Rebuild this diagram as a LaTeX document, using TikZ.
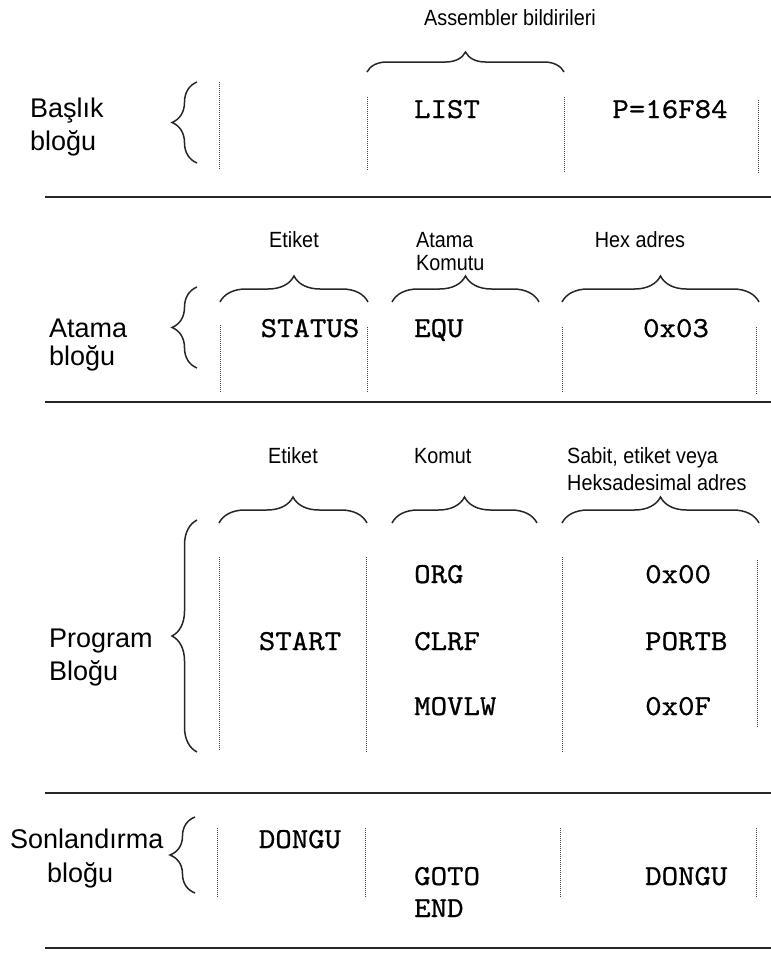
\documentclass[tikz,border=0pt]{standalone}
\usepackage{fontspec}
\usepackage{graphicx}
\setmainfont{Liberation Sans}
\newfontfamily\codefont[Extension=.otf,FakeBold=0.7]{lmmono10-regular}
\newcommand{\narrowtext}[1]{\scalebox{0.9}[1]{#1}}
\newcommand{\codetext}[1]{\scalebox{1.08}[1]{#1}}
\usetikzlibrary{decorations.pathreplacing}

\begin{document}
\begin{tikzpicture}[x=1pt,y=-1pt,
  rule/.style={line width=2.8pt, black!85},
  sep/.style={densely dotted, line width=1pt, black!75},
  bracebase/.style={decorate, line width=1.5pt, black!85},
  hbrace/.style={bracebase, decoration={brace, amplitude=#1}},
  hbrace/.default=26pt,
  vbrace/.style={bracebase, decoration={brace, amplitude=25pt}},
  blocklabel/.style={font=\fontsize{27}{30}\selectfont, anchor=base west, inner sep=0pt},
  fieldlabel/.style={font=\fontsize{22}{25}\selectfont, inner sep=0pt},
  code/.style={font=\codefont\fontsize{29}{32}\selectfont, inner sep=0pt},
]
\useasboundingbox (0,0) rectangle (771,954);

% ---------- header block ----------
\node[fieldlabel, anchor=base] (asm) at (510,25) {\narrowtext{Assembler bildirileri}};
\draw[hbrace=20pt] (367,72) -- (564,72);
\draw[vbrace] (197,163) -- (197,82);
\node[blocklabel] (h1) at (30,117) {Başlık};
\node[blocklabel] (h2) at (30,150) {bloğu};
\node[code, anchor=base] (list) at (447,118) {\codetext{LIST}};
\node[code, anchor=base] (proc) at (670,118) {\codetext{P=16F84}};
\draw[sep] (219,82) -- (219,170);
\draw[sep] (367,97) -- (367,170);
\draw[sep] (564,97) -- (564,172);
\draw[sep] (758,100) -- (758,173);
\draw[rule] (45,197) -- (771,197);

% ---------- assignment block ----------
\node[fieldlabel, anchor=base] (a1) at (294,247) {\narrowtext{Etiket}};
\node[fieldlabel, anchor=base west] (a2) at (416,247) {\narrowtext{Atama}};
\node[fieldlabel, anchor=base west] (a3) at (416,270) {\narrowtext{Komutu}};
\node[fieldlabel, anchor=base] (a4) at (640,247) {\narrowtext{Hex adres}};
\draw[hbrace] (220,302) -- (368,302);
\draw[hbrace] (392,302) -- (539,302);
\draw[hbrace] (562,302) -- (759,302);
\draw[vbrace] (197,368) -- (197,287);
\node[blocklabel] (b1) at (49,337) {Atama};
\node[blocklabel] (b2) at (49,365) {bloğu};
\node[code, anchor=base] (status) at (310,337) {\codetext{STATUS}};
\node[code, anchor=base west] (equ) at (414,337) {\codetext{EQU}};
\node[code, anchor=base] (addr) at (676,337) {\codetext{0x03}};
\draw[sep] (220,325) -- (220,393);
\draw[sep] (367,327) -- (367,393);
\draw[sep] (562,327) -- (562,393);
\draw[sep] (756,327) -- (756,395);
\draw[rule] (45,402) -- (771,402);

% ---------- program block ----------
\node[fieldlabel, anchor=base] (p1) at (293,463) {\narrowtext{Etiket}};
\node[fieldlabel, anchor=base west] (p2) at (414,463) {\narrowtext{Komut}};
\node[fieldlabel, anchor=base west] (p3) at (567,463) {\narrowtext{Sabit, etiket veya}};
\node[fieldlabel, anchor=base west] (p4) at (567,490) {\narrowtext{Heksadesimal adres}};
\draw[hbrace] (219,523) -- (367,523);
\draw[hbrace] (392,523) -- (537,523);
\draw[hbrace] (562,523) -- (759,523);
\draw[vbrace] (197,752) -- (197,520);
\node[blocklabel] (c1) at (49,647) {Program};
\node[blocklabel] (c2) at (49,680) {Bloğu};
\node[code, anchor=base] (start) at (300,650) {\codetext{START}};
\node[code, anchor=base west] (org) at (414,583) {\codetext{ORG}};
\node[code, anchor=base west] (clrf) at (414,650) {\codetext{CLRF}};
\node[code, anchor=base west] (movlw) at (414,715) {\codetext{MOVLW}};
\node[code, anchor=base west] (v1) at (645,583) {\codetext{0x00}};
\node[code, anchor=base west] (v2) at (645,650) {\codetext{PORTB}};
\node[code, anchor=base west] (v3) at (645,715) {\codetext{0x0F}};
\draw[sep] (219,557) -- (219,750);
\draw[sep] (366,557) -- (366,752);
\draw[sep] (562,557) -- (562,753);
\draw[sep] (757,560) -- (757,728);
\draw[rule] (45,793) -- (771,793);

% ---------- end block ----------
\node[blocklabel] (d1) at (10,848) {Sonlandırma};
\node[blocklabel] (d2) at (47,882) {bloğu};
\draw[vbrace] (195,893) -- (195,817);
\node[code, anchor=base] (loop) at (300,848) {\codetext{DONGU}};
\node[code, anchor=base west] (goto) at (414,885) {\codetext{GOTO}};
\node[code, anchor=base west] (endd) at (414,917) {\codetext{END}};
\node[code, anchor=base west] (target) at (645,885) {\codetext{DONGU}};
\draw[sep] (217,828) -- (217,897);
\draw[sep] (365,828) -- (365,897);
\draw[sep] (560,828) -- (560,897);
\draw[sep] (756,828) -- (756,897);
\draw[rule] (45,948) -- (771,948);
\end{tikzpicture}
\end{document}
